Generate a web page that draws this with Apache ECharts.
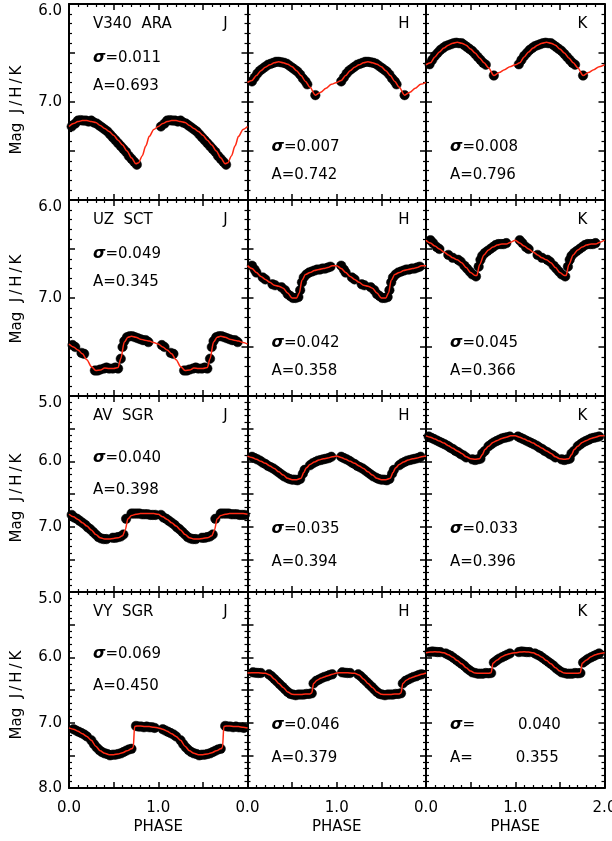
<!DOCTYPE html>
<html>
<head>
<meta charset="utf-8">
<script src="https://cdn.jsdelivr.net/npm/echarts@6/dist/echarts.min.js"></script>
<style>
  html, body { margin: 0; padding: 0; background: #fff; }
  #chart { width: 612px; height: 841px; }
</style>
</head>
<body>
<div id="chart"></div>
<script>
// --- data (one phase cycle each, plotted twice) ---
const stars = ['V340  ARA', 'UZ  SCT', 'AV  SGR', 'VY  SGR']
const bands = ['J', 'H', 'K']
const yMin = [6, 6, 5, 5]
const yMax = [8, 8, 8, 8]
const sigmas = [
  ['0.011', '0.007', '0.008'],
  ['0.049', '0.042', '0.045'],
  ['0.040', '0.035', '0.033'],
  ['0.069', '0.046', '0.040']
]
const amps = [
  ['0.693', '0.742', '0.796'],
  ['0.345', '0.358', '0.366'],
  ['0.398', '0.394', '0.396'],
  ['0.450', '0.379', '0.355']
]

// V340 ARA
const v340J_fit = [[0,7.25],[0.05,7.22],[0.10,7.20],[0.15,7.19],[0.20,7.19],[0.25,7.20],[0.30,7.21],[0.35,7.24],[0.40,7.27],[0.45,7.30],[0.50,7.34],[0.55,7.39],[0.60,7.44],[0.65,7.50],[0.70,7.57],[0.75,7.63],[0.78,7.62],[0.82,7.55],[0.86,7.45],[0.90,7.35],[0.95,7.28],[1.00,7.25]]
const v340J_pts = [[0.03,7.25],[0.07,7.22],[0.10,7.19],[0.13,7.185],[0.16,7.19],[0.19,7.19],[0.22,7.20],[0.25,7.19],[0.28,7.21],[0.31,7.22],[0.34,7.24],[0.37,7.26],[0.40,7.28],[0.43,7.30],[0.46,7.33],[0.49,7.36],[0.52,7.39],[0.55,7.42],[0.58,7.45],[0.61,7.48],[0.64,7.51],[0.67,7.55],[0.70,7.58],[0.73,7.61],[0.76,7.64]]
const v340H_fit = [[0,6.80],[0.05,6.78],[0.10,6.73],[0.15,6.68],[0.20,6.645],[0.25,6.62],[0.30,6.60],[0.35,6.59],[0.40,6.60],[0.45,6.615],[0.50,6.64],[0.55,6.68],[0.60,6.73],[0.65,6.79],[0.70,6.85],[0.76,6.93],[0.82,6.90],[0.88,6.86],[0.94,6.82],[1.00,6.80]]
const v340H_pts = [[0.05,6.79],[0.08,6.75],[0.11,6.71],[0.14,6.68],[0.17,6.66],[0.20,6.64],[0.23,6.62],[0.26,6.61],[0.29,6.60],[0.32,6.59],[0.35,6.59],[0.38,6.595],[0.41,6.60],[0.44,6.61],[0.47,6.63],[0.50,6.65],[0.53,6.67],[0.56,6.69],[0.59,6.72],[0.62,6.76],[0.65,6.79],[0.67,6.82],[0.76,6.93]]
const v340K_fit = [[0,6.62],[0.05,6.60],[0.10,6.54],[0.15,6.49],[0.20,6.45],[0.25,6.42],[0.30,6.40],[0.35,6.39],[0.40,6.40],[0.45,6.42],[0.50,6.46],[0.55,6.50],[0.60,6.55],[0.65,6.60],[0.70,6.65],[0.76,6.73],[0.82,6.70],[0.88,6.67],[0.94,6.64],[1.00,6.62]]
const v340K_pts = [[0.04,6.615],[0.07,6.57],[0.10,6.53],[0.13,6.50],[0.16,6.47],[0.19,6.45],[0.22,6.43],[0.25,6.42],[0.28,6.41],[0.31,6.40],[0.34,6.395],[0.37,6.40],[0.40,6.40],[0.43,6.42],[0.46,6.44],[0.49,6.46],[0.52,6.48],[0.55,6.51],[0.58,6.54],[0.61,6.57],[0.64,6.60],[0.67,6.62],[0.76,6.73]]

// UZ SCT
const uzJ_fit = [[0,7.47],[0.05,7.50],[0.10,7.53],[0.15,7.57],[0.20,7.63],[0.25,7.70],[0.30,7.74],[0.35,7.735],[0.40,7.715],[0.45,7.72],[0.50,7.72],[0.55,7.71],[0.58,7.62],[0.62,7.45],[0.66,7.40],[0.70,7.39],[0.75,7.40],[0.80,7.42],[0.85,7.43],[0.90,7.44],[0.95,7.455],[1.00,7.47]]
const uzJ_pts = [[0.04,7.48],[0.07,7.50],[0.14,7.56],[0.17,7.57],[0.29,7.74],[0.32,7.74],[0.35,7.73],[0.39,7.72],[0.42,7.71],[0.45,7.72],[0.49,7.72],[0.52,7.71],[0.55,7.72],[0.58,7.62],[0.60,7.50],[0.62,7.44],[0.65,7.40],[0.68,7.39],[0.71,7.39],[0.74,7.40],[0.77,7.41],[0.80,7.42],[0.83,7.43],[0.86,7.43],[0.89,7.45]]
const uzH_fit = [[0,6.67],[0.05,6.70],[0.10,6.74],[0.15,6.78],[0.20,6.81],[0.25,6.84],[0.30,6.87],[0.35,6.88],[0.40,6.90],[0.45,6.95],[0.50,7.00],[0.55,7.00],[0.58,6.95],[0.61,6.82],[0.65,6.76],[0.70,6.74],[0.75,6.72],[0.80,6.71],[0.85,6.70],[0.90,6.69],[0.95,6.67],[1.00,6.67]]
const uzH_pts = [[0.05,6.67],[0.08,6.71],[0.10,6.74],[0.17,6.79],[0.20,6.81],[0.28,6.86],[0.31,6.87],[0.38,6.89],[0.42,6.92],[0.45,6.96],[0.48,6.98],[0.51,7.00],[0.54,7.00],[0.57,6.99],[0.59,6.92],[0.61,6.84],[0.63,6.79],[0.66,6.76],[0.69,6.74],[0.72,6.73],[0.75,6.72],[0.78,6.71],[0.81,6.71],[0.84,6.70],[0.87,6.70],[0.90,6.69],[0.93,6.68]]
const uzK_fit = [[0,6.41],[0.05,6.44],[0.10,6.47],[0.15,6.50],[0.20,6.53],[0.25,6.56],[0.30,6.59],[0.35,6.61],[0.40,6.64],[0.45,6.69],[0.50,6.74],[0.55,6.77],[0.57,6.77],[0.60,6.66],[0.65,6.56],[0.70,6.51],[0.75,6.48],[0.80,6.46],[0.85,6.45],[0.90,6.45],[0.95,6.43],[1.00,6.41]]
const uzK_pts = [[0.05,6.41],[0.08,6.44],[0.12,6.48],[0.15,6.50],[0.25,6.56],[0.30,6.59],[0.36,6.61],[0.39,6.63],[0.43,6.67],[0.46,6.70],[0.49,6.73],[0.52,6.76],[0.56,6.78],[0.59,6.68],[0.61,6.61],[0.63,6.57],[0.66,6.54],[0.69,6.52],[0.72,6.50],[0.75,6.48],[0.78,6.46],[0.81,6.45],[0.84,6.45],[0.87,6.45],[0.90,6.44]]

// AV SGR
const avJ_fit = [[0,6.81],[0.05,6.85],[0.10,6.89],[0.15,6.94],[0.20,6.99],[0.25,7.05],[0.30,7.12],[0.35,7.17],[0.40,7.19],[0.45,7.19],[0.50,7.18],[0.55,7.17],[0.60,7.14],[0.63,7.05],[0.66,6.88],[0.70,6.83],[0.75,6.81],[0.80,6.80],[0.85,6.80],[0.90,6.80],[0.95,6.80],[1.00,6.81]]
const avJ_pts = [[0.03,6.82],[0.06,6.86],[0.09,6.88],[0.12,6.91],[0.15,6.94],[0.18,6.97],[0.21,7.01],[0.24,7.04],[0.27,7.08],[0.30,7.12],[0.33,7.16],[0.36,7.18],[0.39,7.19],[0.42,7.19],[0.49,7.17],[0.52,7.17],[0.55,7.16],[0.58,7.15],[0.61,7.12],[0.64,6.88],[0.70,6.80],[0.73,6.80],[0.76,6.80],[0.79,6.80],[0.82,6.81],[0.85,6.81],[0.88,6.81],[0.91,6.82],[0.94,6.82],[0.97,6.82]]
const avH_fit = [[0,5.92],[0.05,5.94],[0.10,5.97],[0.15,6.00],[0.20,6.03],[0.25,6.07],[0.30,6.11],[0.35,6.16],[0.40,6.21],[0.45,6.26],[0.50,6.28],[0.55,6.28],[0.60,6.26],[0.63,6.17],[0.66,6.10],[0.70,6.05],[0.75,6.01],[0.80,5.98],[0.85,5.96],[0.90,5.95],[0.95,5.93],[1.00,5.92]]
const avH_pts = [[0.05,5.93],[0.08,5.95],[0.11,5.97],[0.14,5.99],[0.17,6.02],[0.20,6.04],[0.23,6.07],[0.26,6.09],[0.29,6.11],[0.32,6.14],[0.35,6.17],[0.38,6.20],[0.41,6.23],[0.44,6.25],[0.47,6.27],[0.50,6.28],[0.53,6.28],[0.56,6.29],[0.59,6.27],[0.62,6.19],[0.64,6.13],[0.70,6.06],[0.73,6.03],[0.76,6.01],[0.79,5.99],[0.82,5.98],[0.85,5.97],[0.88,5.96],[0.91,5.95],[0.94,5.93]]
const avK_fit = [[0,5.61],[0.05,5.63],[0.10,5.66],[0.15,5.69],[0.20,5.72],[0.25,5.76],[0.30,5.80],[0.35,5.84],[0.40,5.88],[0.45,5.93],[0.50,5.96],[0.55,5.97],[0.60,5.96],[0.63,5.90],[0.66,5.82],[0.70,5.77],[0.75,5.71],[0.80,5.68],[0.85,5.65],[0.90,5.63],[0.95,5.61],[1.00,5.61]]
const avK_pts = [[0.03,5.62],[0.06,5.64],[0.09,5.66],[0.12,5.68],[0.15,5.70],[0.18,5.72],[0.21,5.74],[0.24,5.76],[0.27,5.79],[0.30,5.81],[0.33,5.84],[0.36,5.86],[0.39,5.89],[0.42,5.91],[0.45,5.94],[0.52,5.97],[0.55,5.98],[0.58,5.97],[0.61,5.96],[0.63,5.88],[0.66,5.84],[0.70,5.77],[0.73,5.74],[0.76,5.71],[0.79,5.69],[0.82,5.67],[0.85,5.65],[0.88,5.64],[0.91,5.63],[0.94,5.62]]

// VY SGR
const vyJ_fit = [[0,7.08],[0.05,7.10],[0.10,7.13],[0.15,7.17],[0.20,7.21],[0.25,7.27],[0.30,7.36],[0.35,7.43],[0.40,7.47],[0.45,7.49],[0.50,7.49],[0.55,7.48],[0.60,7.46],[0.65,7.43],[0.70,7.40],[0.72,7.38],[0.735,7.06],[0.76,7.05],[0.80,7.05],[0.85,7.06],[0.90,7.06],[0.95,7.07],[1.00,7.08]]
const vyJ_pts = [[0.05,7.10],[0.08,7.12],[0.11,7.14],[0.14,7.16],[0.17,7.18],[0.20,7.21],[0.25,7.27],[0.28,7.33],[0.31,7.38],[0.34,7.42],[0.37,7.45],[0.40,7.47],[0.43,7.48],[0.46,7.50],[0.49,7.49],[0.52,7.49],[0.55,7.48],[0.58,7.47],[0.61,7.45],[0.64,7.43],[0.67,7.41],[0.70,7.40],[0.75,7.05],[0.78,7.06],[0.81,7.06],[0.84,7.07],[0.87,7.06],[0.90,7.07],[0.93,7.07],[0.96,7.08]]
const vyH_fit = [[0,6.24],[0.05,6.235],[0.10,6.235],[0.15,6.24],[0.20,6.245],[0.25,6.27],[0.30,6.33],[0.35,6.40],[0.40,6.46],[0.45,6.53],[0.50,6.565],[0.55,6.57],[0.60,6.57],[0.65,6.56],[0.70,6.56],[0.72,6.545],[0.74,6.40],[0.78,6.35],[0.82,6.32],[0.86,6.30],[0.90,6.28],[0.95,6.26],[1.00,6.24]]
const vyH_pts = [[0.06,6.23],[0.09,6.235],[0.12,6.24],[0.15,6.24],[0.24,6.26],[0.27,6.29],[0.30,6.33],[0.33,6.37],[0.36,6.41],[0.39,6.45],[0.42,6.49],[0.45,6.53],[0.48,6.56],[0.51,6.57],[0.54,6.58],[0.57,6.57],[0.60,6.57],[0.63,6.57],[0.66,6.56],[0.69,6.56],[0.72,6.55],[0.74,6.40],[0.77,6.36],[0.80,6.34],[0.83,6.32],[0.86,6.30],[0.89,6.29],[0.92,6.27],[0.95,6.26]]
const vyK_fit = [[0,5.93],[0.05,5.92],[0.10,5.915],[0.15,5.92],[0.20,5.93],[0.25,5.96],[0.30,6.00],[0.35,6.05],[0.40,6.10],[0.45,6.16],[0.50,6.21],[0.55,6.24],[0.60,6.245],[0.65,6.245],[0.70,6.245],[0.73,6.235],[0.75,6.09],[0.80,6.04],[0.85,5.99],[0.90,5.96],[0.95,5.94],[1.00,5.93]]
const vyK_pts = [[0.04,5.92],[0.07,5.91],[0.10,5.915],[0.13,5.92],[0.16,5.92],[0.22,5.94],[0.25,5.96],[0.28,5.98],[0.31,6.01],[0.34,6.04],[0.37,6.07],[0.40,6.10],[0.43,6.13],[0.46,6.17],[0.49,6.20],[0.52,6.23],[0.55,6.24],[0.58,6.25],[0.61,6.25],[0.64,6.25],[0.67,6.24],[0.70,6.245],[0.73,6.24],[0.76,6.08],[0.79,6.05],[0.82,6.02],[0.85,6.00],[0.88,5.98],[0.91,5.96],[0.94,5.94]]

const fits = [
  [v340J_fit, v340H_fit, v340K_fit],
  [uzJ_fit, uzH_fit, uzK_fit],
  [avJ_fit, avH_fit, avK_fit],
  [vyJ_fit, vyH_fit, vyK_fit]
]
const points = [
  [v340J_pts, v340H_pts, v340K_pts],
  [uzJ_pts, uzH_pts, uzK_pts],
  [avJ_pts, avH_pts, avK_pts],
  [vyJ_pts, vyH_pts, vyK_pts]
]

// --- layout ---
const colLeft = [69, 247.5, 426]
const colW = 178.5
const rowTop = [4, 200, 396, 592]
const rowH = 196
const FONT = '"DejaVu Sans", sans-serif'
const RED = '#ff2a14'

// phase-folded data are shown over two cycles
function twoCycles(arr, skipFirst) {
  const second = (skipFirst ? arr.slice(1) : arr).map(p => [p[0] + 1, p[1]])
  return arr.concat(second)
}

const grids = [], xAxes = [], yAxes = [], series = [], graphics = []

for (let r = 0; r < 4; r++) {
  for (let c = 0; c < 3; c++) {
    const i = r * 3 + c
    grids.push({ left: colLeft[c], top: rowTop[r], width: colW, height: rowH, outerBoundsMode: 'none', containLabel: false })

    const tick = { inside: true, length: 6, lineStyle: { color: '#000', width: 1.5 } }
    const minor = { show: true, splitNumber: 5, length: 3, lineStyle: { color: '#000', width: 1.2 } }
    const line = { show: true, onZero: false, lineStyle: { color: '#000', width: 2 } }

    for (const pos of ['bottom', 'top']) {
      xAxes.push({
        type: 'value', gridIndex: i, position: pos, min: 0, max: 2, interval: 0.5,
        axisLine: line, axisTick: tick, minorTick: minor, splitLine: { show: false },
        axisLabel: {
          show: pos === 'bottom' && r === 3, margin: 13, fontSize: 15, fontFamily: FONT, color: '#000',
          formatter: v => (v === 0 || v === 1 || (v === 2 && c === 2)) ? v.toFixed(1) : ''
        }
      })
    }
    for (const pos of ['left', 'right']) {
      yAxes.push({
        type: 'value', gridIndex: i, position: pos, inverse: true,
        min: yMin[r], max: yMax[r], interval: 0.5,
        axisLine: line, axisTick: tick, minorTick: minor, splitLine: { show: false },
        axisLabel: {
          show: pos === 'left' && c === 0, margin: 7, fontSize: 15, fontFamily: FONT, color: '#000',
          verticalAlignMinLabel: 'top',
          formatter: v => {
            if (Math.abs(v - Math.round(v)) > 1e-6) return ''
            if (v === yMax[r] && r !== 3) return ''
            return v.toFixed(1)
          }
        }
      })
    }

    series.push({
      type: 'scatter', xAxisIndex: 2 * i, yAxisIndex: 2 * i,
      data: twoCycles(points[r][c], false),
      symbol: 'circle', symbolSize: 9.5,
      itemStyle: { color: '#000', opacity: 1, borderColor: '#000', borderWidth: 0.5 },
      z: 2, silent: true
    })
    series.push({
      type: 'line', xAxisIndex: 2 * i, yAxisIndex: 2 * i,
      data: twoCycles(fits[r][c], true),
      showSymbol: false, smooth: 0.3, smoothMonotone: 'x',
      lineStyle: { color: RED, width: 1.5 }, z: 3, silent: true
    })

    // panel annotations
    const gx = colLeft[c], gy = rowTop[r]
    const txt = { font: '15px ' + FONT, fill: '#000', verticalAlign: 'middle' }
    graphics.push({
      type: 'text', x: gx + colW - 22, y: gy + 20,
      style: Object.assign({}, txt, { text: bands[c], align: 'center' })
    })
    let sy, ay
    if (c === 0) {
      graphics.push({
        type: 'text', x: gx + 24, y: gy + 20,
        style: Object.assign({}, txt, { text: stars[r], align: 'left' })
      })
      sy = r < 2 ? 54 : 62
      ay = r < 2 ? 82 : 94
    } else {
      sy = r < 2 ? 143 : 133
      ay = r < 2 ? 171 : 166
    }
    const wide = (r === 3 && c === 2)
    const sigRich = { s: { fontSize: 16, fontFamily: FONT, fontWeight: 'bold', fontStyle: 'italic' },
                      n: { fontSize: 15, fontFamily: FONT } }
    graphics.push({
      type: 'text', x: gx + 24, y: gy + sy,
      style: Object.assign({}, txt, {
        text: '{s|σ}{n|=' + (wide ? '         ' : '') + sigmas[r][c] + '}', align: 'left', rich: sigRich
      })
    })
    graphics.push({
      type: 'text', x: gx + 24, y: gy + ay,
      style: Object.assign({}, txt, {
        text: 'A=' + (wide ? '         ' : '') + amps[r][c], align: 'left'
      })
    })
  }
}

// axis titles
const yNameY = [110, 299, 498, 695]
for (let r = 0; r < 4; r++) {
  graphics.push({
    type: 'text', x: 17, y: yNameY[r], rotation: Math.PI / 2,
    style: { text: 'Mag  J\u2009/\u2009H\u2009/\u2009K', font: '15px ' + FONT, fill: '#000', align: 'center', verticalAlign: 'middle' }
  })
}
for (let c = 0; c < 3; c++) {
  graphics.push({
    type: 'text', x: colLeft[c] + colW / 2, y: 827,
    style: { text: 'PHASE', font: '15px ' + FONT, fill: '#000', align: 'center', verticalAlign: 'middle' }
  })
}

const chart = echarts.init(document.getElementById('chart'))
chart.setOption({
  animation: false,
  backgroundColor: '#fff',
  grid: grids,
  xAxis: xAxes,
  yAxis: yAxes,
  series: series,
  graphic: graphics
})
</script>
</body>
</html>
